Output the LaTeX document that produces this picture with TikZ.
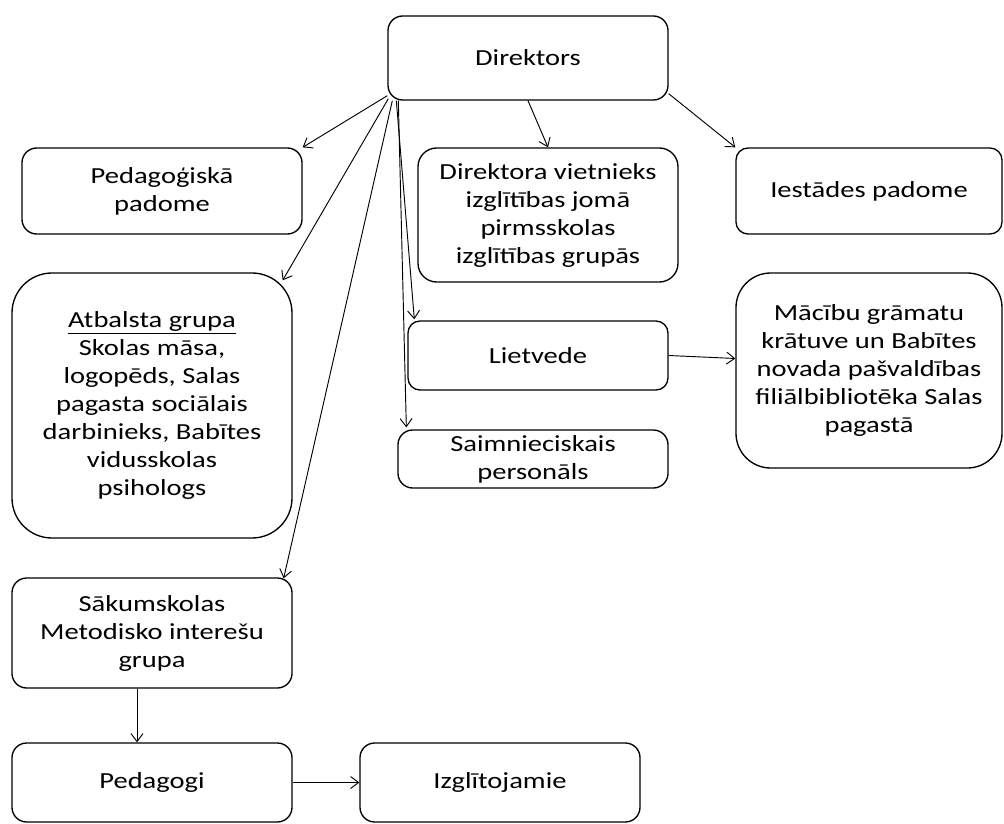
\documentclass[tikz,border=0pt]{standalone}
\usepackage{fontspec}
\setmainfont{Carlito}[FakeStretch=1.24]
\usetikzlibrary{arrows.meta,positioning}
\tikzset{>={Straight Barb[length=6pt,width=9pt]},
	amats/.style={draw,line width=1pt,rounded corners=11pt,align=center,inner sep=0pt},
	saite/.style={->,line width=0.7pt}}

\begin{document}
\begin{tikzpicture}[x=0.75pt,y=-0.75pt,font=\fontsize{17.25}{21}\selectfont]
	\useasboundingbox (0,0) rectangle (1004,824);
	% augsha
	\node[amats,minimum width=210pt,minimum height=63pt] (dir) at (528,58) {Direktors};
	\node[amats,minimum width=210pt,minimum height=64.5pt] (pedpad) at (162,191) {Pedagoģiskā\\padome};
	\node[amats,rounded corners=14pt,minimum width=195pt,minimum height=100.5pt] (vietn) at (548,215)
		{Direktora vietnieks\\izglītības jomā\\pirmsskolas\\izglītības grupās};
	\node[amats,rounded corners=9pt,minimum width=199.5pt,minimum height=64.5pt] (iestpad) at (869,191) {Iestādes padome};
	% vidus
	\node[amats,rounded corners=30pt,minimum width=210pt,minimum height=198.75pt] (atbgr) at (152,405.5)
		{\underline{Atbalsta grupa}\\Skolas māsa,\\logopēds, Salas\\pagasta sociālais\\darbinieks, Babītes\\vidusskolas\\psihologs};
	\node[amats,rounded corners=9pt,minimum width=195pt,minimum height=51.75pt] (lietv) at (538,355.5) {Lietvede};
	\node[amats,rounded corners=26pt,minimum width=199.5pt,minimum height=146.25pt] (bibl) at (869,370.5)
		{Mācību grāmatu\\krātuve un Babītes\\novada pašvaldības\\filiālbibliotēka Salas\\pagastā};
	\node[amats,minimum width=202.5pt,minimum height=43.5pt] (saimn) at (533,459) {Saimnieciskais\\personāls};
	% apaksha
	\node[amats,minimum width=210pt,minimum height=82.5pt] (metod) at (152,633) {Sākumskolas\\Metodisko interešu\\grupa};
	\node[amats,minimum width=210pt,minimum height=59.25pt] (pedag) at (152,782.5) {Pedagogi};
	\node[amats,minimum width=210pt,minimum height=59.25pt] (izgl) at (500,782.5) {Izglītojamie};
	% bultas
	\draw[saite] ([shift={(0,-5)}]dir.south west) -- (pedpad.north east);
	\draw[saite] ([shift={(1,-2)}]dir.south west) -- ([shift={(-10,8)}]atbgr.north east);
	\draw[saite] ([shift={(5,0)}]dir.south west) -- ([shift={(-9,1)}]metod.north east);
	\draw[saite] ([shift={(9,0)}]dir.south west) -- ([shift={(7,-1)}]lietv.north west);
	\draw[saite] ([shift={(11,0)}]dir.south west) -- ([shift={(9,-2)}]saimn.north west);
	\draw[saite] (dir.south) -- (vietn.north);
	\draw[saite] ([shift={(0,-7)}]dir.south east) -- (iestpad.north west);
	\draw[saite] (lietv.east) -- ([shift={(0,-12)}]bibl.west);
	\draw[saite] ([shift={(-15,0)}]metod.south) -- ([shift={(-15,0)}]pedag.north);
	\draw[saite] (pedag.east) -- (izgl.west);
\end{tikzpicture}
\end{document}
